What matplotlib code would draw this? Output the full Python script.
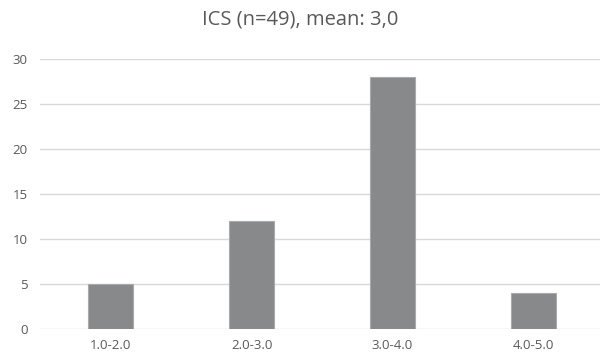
import matplotlib
matplotlib.use("Agg")
import matplotlib.pyplot as plt

# data
categories = ["1.0-2.0", "2.0-3.0", "3.0-4.0", "4.0-5.0"]
counts = [5, 12, 28, 4]
title = "ICS (n=49), mean: 3,0"

plt.rcParams['font.family'] = ['Open Sans', 'DejaVu Sans']
text_col = "#595959"

fig = plt.figure(figsize=(6, 3.58), dpi=100)
ax = fig.add_axes([40 / 600, 29 / 358, 564 / 600, 270 / 358])

x = range(len(categories))
ax.bar(x, counts, width=0.32, color="#88898b", edgecolor="#a9aaac", linewidth=0.8, zorder=3)

ax.set_xlim(-0.5, len(categories) - 0.5)
ax.set_ylim(0, 30)
ax.set_yticks(range(0, 31, 5))
ax.set_xticks(list(x))
ax.set_xticklabels(categories)
ax.grid(axis="y", color="#d9d9d9", linewidth=1, zorder=0)
for s in ax.spines.values():
    s.set_visible(False)
ax.tick_params(axis="both", length=0, colors=text_col, labelsize=9.5)
ax.tick_params(axis="y", pad=9)
ax.tick_params(axis="x", pad=7)

fig.text(0.5, 0.945, title, ha="center", va="center", fontsize=14.5, color=text_col)

fig.savefig("out.png", dpi=100)
